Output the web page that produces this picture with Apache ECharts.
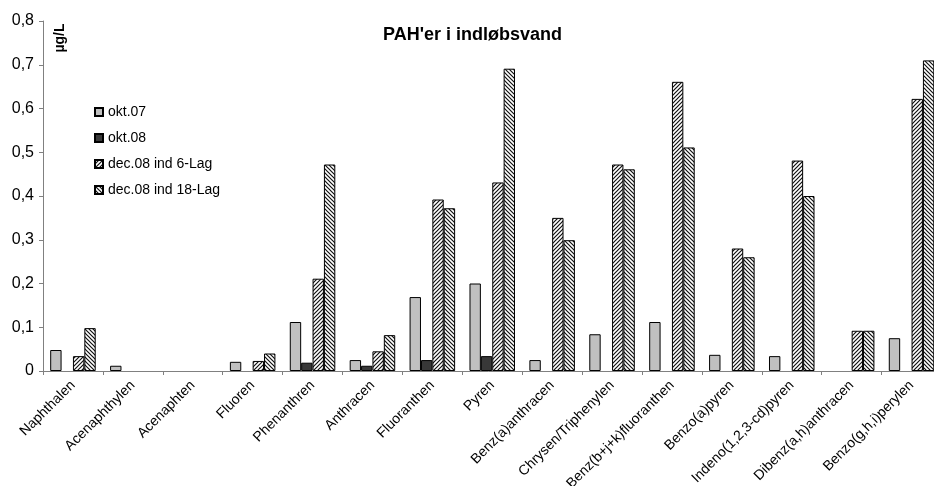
<!DOCTYPE html>
<html>
<head>
<meta charset="utf-8">
<script src="https://cdn.jsdelivr.net/npm/echarts@6/dist/echarts.min.js"></script>
<style>
html,body{margin:0;padding:0;background:#fff;}
#c{width:934px;height:486px;}
</style>
</head>
<body>
<div id="c"></div>
<script>
const categories = ["Naphthalen","Acenaphthylen","Acenaphten","Fluoren","Phenanthren","Anthracen","Fluoranthen","Pyren","Benz(a)anthracen","Chrysen/Triphenylen","Benz(b+j+k)fluoranthen","Benzo(a)pyren","Indeno(1,2,3-cd)pyren","Dibenz(a,h)anthracen","Benzo(g,h,i)perylen"];
const seriesNames = ["okt.07","okt.08","dec.08 ind 6-Lag","dec.08 ind 18-Lag"];
const okt07 = [0.048,0.012,0,0.021,0.112,0.025,0.169,0.200,0.025,0.084,0.112,0.037,0.034,0,0.075];
const okt08 = [0,0,0,0,0.019,0.012,0.025,0.034,0,0,0,0,0,0,0];
const dec08_6 = [0.034,0,0,0.023,0.211,0.045,0.392,0.431,0.350,0.472,0.661,0.280,0.481,0.092,0.622];
const dec08_18 = [0.098,0,0,0.040,0.472,0.082,0.372,0.691,0.299,0.461,0.511,0.260,0.400,0.092,0.710];
const yTicks = ["0","0,1","0,2","0,3","0,4","0,5","0,6","0,7","0,8"];

function makePattern(dir){
  const s = 4;
  const c = document.createElement('canvas');
  c.width = s; c.height = s;
  const g = c.getContext('2d');
  g.fillStyle = '#fff'; g.fillRect(0,0,s,s);
  g.strokeStyle = '#111'; g.lineWidth = 1.2;
  g.beginPath();
  if (dir > 0) {
    g.moveTo(-1, s+1); g.lineTo(s+1, -1);
    g.moveTo(-1, 1); g.lineTo(1, -1);
    g.moveTo(s-1, s+1); g.lineTo(s+1, s-1);
  } else {
    g.moveTo(-1, -1); g.lineTo(s+1, s+1);
    g.moveTo(s-1, -1); g.lineTo(s+1, 1);
    g.moveTo(-1, s-1); g.lineTo(1, s+1);
  }
  g.stroke();
  return {image: c, repeat: 'repeat'};
}

const FONT = '"Liberation Sans", Arial, sans-serif';
const fills = ['#c0c0c0', '#383838', makePattern(1), makePattern(-1)];
const datasets = [okt07, okt08, dec08_6, dec08_18];

const chart = echarts.init(document.getElementById('c'), null, {renderer: 'canvas'});
chart.setOption({
  animation: false,
  backgroundColor: '#fff',
  title: {
    text: "PAH'er i indløbsvand",
    left: 383, top: 26, padding: 0,
    textStyle: {fontFamily: FONT, fontSize: 18, fontWeight: 'bold', color: '#000'}
  },
  legend: {
    orient: 'vertical', left: 94, top: 105, padding: 0,
    itemWidth: 8, itemHeight: 8, itemGap: 12, itemTextGap: 6,
    icon: 'rect',
    textStyle: {fontFamily: FONT, fontSize: 14, color: '#000'},
    data: seriesNames
  },
  graphic: [{
    type: 'text', x: 60, y: 38, rotation: Math.PI/2,
    style: {text: 'µg/L', fontFamily: FONT, fontSize: 14, fontWeight: 'bold', fill: '#000', align: 'center', verticalAlign: 'middle'}
  }],
  grid: {left: 43, right: -7.5, top: 21, bottom: 115, containLabel: false, outerBoundsMode: 'none'},
  xAxis: {
    type: 'category', data: categories,
    axisLine: {lineStyle: {color: '#808080', width: 1}},
    axisTick: {show: true, length: 4, inside: false, lineStyle: {color: '#808080'}},
    axisLabel: {rotate: 45, interval: 0, margin: 12, fontFamily: FONT, fontSize: 14, color: '#000'},
    splitLine: {show: false}
  },
  yAxis: {
    type: 'value', min: 0, max: 0.8, interval: 0.1,
    axisLine: {show: true, lineStyle: {color: '#808080', width: 1}},
    axisTick: {show: true, length: 4, inside: false, lineStyle: {color: '#808080'}},
    axisLabel: {
      margin: 9, fontFamily: FONT, fontSize: 16, color: '#000',
      formatter: function(v){ const i = Math.round(v*10); return yTicks[i]; }
    },
    splitLine: {show: false}
  },
  series: seriesNames.map((n, i) => ({
    name: n, type: 'bar',
    data: datasets[i].map(v => v === 0 ? {value: 0, itemStyle: {borderWidth: 0}} : v),
    barGap: '0%', barCategoryGap: '24%',
    itemStyle: {color: fills[i], borderColor: '#000', borderWidth: 1}
  }))
});
</script>
</body>
</html>
